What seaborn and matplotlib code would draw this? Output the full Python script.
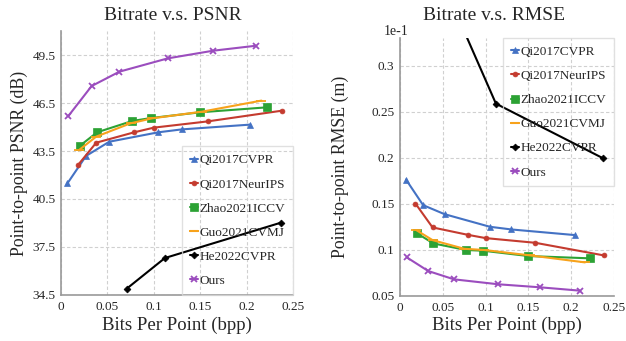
"""
Bitrate vs PSNR / RMSE comparison
"""

import matplotlib.pyplot as plt
import matplotlib.ticker as mticker
import pandas as pd
import seaborn as sns

methods = ["Qi2017CVPR", "Qi2017NeurIPS", "Zhao2021ICCV", "Guo2021CVMJ", "He2022CVPR", "Ours"]

# bits per point for each method
bpp = {
    "Qi2017CVPR": [0.007, 0.027, 0.052, 0.105, 0.13, 0.204],
    "Qi2017NeurIPS": [0.018, 0.038, 0.079, 0.1, 0.158, 0.238],
    "Zhao2021ICCV": [0.02, 0.039, 0.077, 0.097, 0.15, 0.222],
    "Guo2021CVMJ": [0.019, 0.038, 0.075, 0.098, 0.152, 0.216],
    "He2022CVPR": [0.071, 0.112, 0.237],
    "Ours": [0.008, 0.033, 0.063, 0.115, 0.164, 0.21],
}

psnr = {
    "Qi2017CVPR": [41.48, 43.19, 44.08, 44.67, 44.85, 45.15],
    "Qi2017NeurIPS": [42.6, 44.02, 44.67, 44.96, 45.35, 46.02],
    "Zhao2021ICCV": [43.81, 44.67, 45.38, 45.56, 45.92, 46.23],
    "Guo2021CVMJ": [43.54, 44.4, 45.23, 45.54, 45.96, 46.65],
    "He2022CVPR": [34.9, 36.81, 39.02],
    "Ours": [45.69, 47.56, 48.46, 49.29, 49.77, 50.08],
}

rmse = {
    "Qi2017CVPR": [0.1765, 0.1487, 0.1389, 0.1252, 0.1223, 0.1162],
    "Qi2017NeurIPS": [0.1505, 0.1245, 0.1165, 0.1129, 0.1078, 0.0941],
    "Zhao2021ICCV": [0.118, 0.1071, 0.1, 0.0992, 0.0934, 0.0909],
    "Guo2021CVMJ": [0.1216, 0.1107, 0.1013, 0.1, 0.0941, 0.0865],
    "He2022CVPR": [0.346, 0.259, 0.1997],
    "Ours": [0.0919, 0.0771, 0.0681, 0.0627, 0.0594, 0.0558],
}

colors = {
    "Qi2017CVPR": "#4472C4",
    "Qi2017NeurIPS": "#C43B2F",
    "Zhao2021ICCV": "#2CA234",
    "Guo2021CVMJ": "#F7A21B",
    "He2022CVPR": "#000000",
    "Ours": "#9B4DBE",
}
markers = {
    "Qi2017CVPR": ("^", 5),
    "Qi2017NeurIPS": ("o", 3.5),
    "Zhao2021ICCV": ("s", 5.5),
    "Guo2021CVMJ": ("_", 7),
    "He2022CVPR": ("D", 3.5),
    "Ours": ("x", 5),
}

sns.set_style("white")
plt.rcParams["font.family"] = ["Liberation Serif", "DejaVu Serif"]

fig = plt.figure(figsize=(6.26, 3.41), dpi=100)
ax1 = fig.add_axes([0.0974, 0.135, 0.3706, 0.774])
ax2 = fig.add_axes([0.639, 0.132, 0.342, 0.757])


def draw(ax, values):
    for m in methods:
        df = pd.DataFrame({"bpp": bpp[m], "val": values[m]})
        mk, ms = markers[m]
        sns.lineplot(data=df, x="bpp", y="val", ax=ax, color=colors[m],
                     marker=mk, markersize=ms, markeredgewidth=1.3 if mk in "x_" else 0.5,
                     markeredgecolor=colors[m], linewidth=1.5, label=m)


draw(ax1, psnr)
draw(ax2, rmse)

for ax in (ax1, ax2):
    ax.set_xlim(0, 0.25)
    ax.xaxis.set_major_locator(mticker.MultipleLocator(0.05))
    ax.xaxis.set_major_formatter(mticker.FormatStrFormatter("%g"))
    ax.grid(True, color="#d0d0d0", linestyle=(0, (3, 2)), linewidth=0.8)
    ax.set_axisbelow(True)
    for s in ("top", "right"):
        ax.spines[s].set_visible(False)
    for s in ("left", "bottom"):
        ax.spines[s].set_color("#999999")
        ax.spines[s].set_linewidth(1.2)
    ax.tick_params(axis="both", labelsize=9.5, length=0, pad=4)
    ax.set_xlabel("Bits Per Point (bpp)", fontsize=13.5)

ax1.xaxis.set_label_coords(0.5, -0.083)
ax2.xaxis.set_label_coords(0.5, -0.081)

ax1.set_ylim(34.5, 51)
ax1.set_yticks([34.5, 37.5, 40.5, 43.5, 46.5, 49.5])
ax1.yaxis.set_major_formatter(mticker.FormatStrFormatter("%g"))
ax1.set_ylabel("Point-to-point PSNR (dB)", fontsize=12.8)
ax1.yaxis.set_label_coords(-0.142, 0.5)

ax2.set_ylim(0.05, 0.3305)
ax2.set_yticks([0.05, 0.1, 0.15, 0.2, 0.25, 0.3])
ax2.yaxis.set_major_formatter(mticker.FormatStrFormatter("%g"))
ax2.set_ylabel("Point-to-point RMSE (m)", fontsize=12.8)
ax2.yaxis.set_label_coords(-0.239, 0.5)
ax2.text(-0.02, 1.023, "1e-1", transform=ax2.transAxes, ha="center", va="center", fontsize=10)

fig.text(172.5 / 626, 1 - 15 / 341, "Bitrate v.s. PSNR", ha="center", va="center", fontsize=14)
fig.text(494 / 626, 1 - 15 / 341, "Bitrate v.s. RMSE", ha="center", va="center", fontsize=14)

leg_kw = dict(fontsize=9.5, handlelength=0.6, handletextpad=0.1, labelspacing=0.9,
              borderpad=0.6, borderaxespad=0, fancybox=False, edgecolor="#d9d9d9")
for ax, loc in ((ax1, "lower right"), (ax2, "upper right")):
    leg = ax.legend(loc=loc, **leg_kw)
    leg.get_frame().set_facecolor("none")

plt.savefig("out.png", dpi=100)
